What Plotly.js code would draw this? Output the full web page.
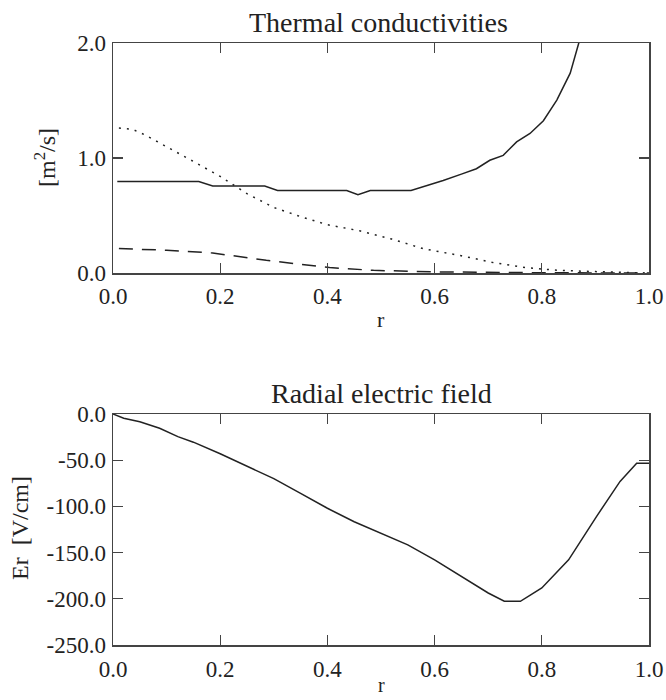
<!DOCTYPE html>
<html>
<head>
<meta charset="utf-8">
<script src="https://cdn.plot.ly/plotly-3.0.1.min.js"></script>
<style>html,body{margin:0;padding:0;background:#fff;}#plot{width:666px;height:700px;}</style>
</head>
<body>
<div id="plot"></div>
<script>
// Top panel: thermal conductivities
const rSolid = [0.008,0.16,0.186,0.283,0.307,0.436,0.457,0.48,0.556,0.6,0.616,0.65,0.678,0.703,0.728,0.753,0.778,0.803,0.828,0.853,0.869,0.89];
const kSolid = [0.795,0.795,0.757,0.757,0.718,0.718,0.68,0.718,0.718,0.78,0.805,0.86,0.907,0.98,1.023,1.14,1.213,1.324,1.504,1.738,2.0,2.5];
const rDot = [0.011,0.036,0.06,0.1,0.15,0.2,0.25,0.3,0.35,0.4,0.46,0.52,0.58,0.65,0.71,0.77,0.83,0.9,1.0];
const kDot = [1.26,1.25,1.2,1.1,0.97,0.84,0.69,0.57,0.49,0.42,0.367,0.295,0.21,0.15,0.09,0.047,0.023,0.012,0.0];
const rDash = [0.011,0.1,0.186,0.286,0.404,0.486,0.6,0.7,0.8,1.0];
const kDash = [0.212,0.198,0.174,0.11,0.047,0.023,0.01,0.004,0.002,0.0];
// Bottom panel: radial electric field
const rEr = [0.0,0.02,0.05,0.087,0.121,0.15,0.2,0.25,0.3,0.35,0.4,0.45,0.5,0.55,0.6,0.65,0.7,0.73,0.76,0.78,0.8,0.85,0.902,0.946,0.977,1.0];
const er = [0.0,-4.5,-8.3,-15.5,-24.5,-30.5,-43,-56.7,-70,-86,-102,-116.6,-129,-141.7,-157.8,-175.8,-193.7,-202.7,-202.7,-195.5,-188.3,-157.8,-111,-73,-53.4,-53.4];
// Tick labels
const xTicks = [0,0.2,0.4,0.6,0.8,1.0];
const xTickText = ['0.0','0.2','0.4','0.6','0.8','1.0'];
const yTicks1 = [0,1,2];
const yTickText1 = ['0.0','1.0','2.0'];
const yTicks2 = [0,-50,-100,-150,-200,-250];
const yTickText2 = ['0.0','-50.0','-100.0','-150.0','-200.0','-250.0'];

const FONT = "'Liberation Serif', 'Times New Roman', Times, serif";
const INK = '#222';
const lineStyle = {color: INK, width: 1.5};

const traces = [
  {x: rSolid, y: kSolid, mode: 'lines', line: Object.assign({}, lineStyle), xaxis: 'x', yaxis: 'y', showlegend: false},
  {x: rDot, y: kDot, mode: 'lines', line: Object.assign({dash: '2px,6px'}, lineStyle), xaxis: 'x', yaxis: 'y', showlegend: false},
  {x: rDash, y: kDash, mode: 'lines', line: Object.assign({dash: '14px,9px'}, lineStyle), xaxis: 'x', yaxis: 'y', showlegend: false},
  {x: rEr, y: er, mode: 'lines', line: Object.assign({}, lineStyle), xaxis: 'x2', yaxis: 'y2', showlegend: false}
];

const axBase = {
  showline: true, linecolor: '#444', linewidth: 1.5, mirror: 'ticks',
  ticks: 'inside', ticklen: 10, tickwidth: 1.3, tickcolor: '#444',
  showgrid: false, zeroline: false, fixedrange: true,
  tickfont: {family: FONT, size: 23, color: INK}
};
const X0 = 113/666, X1 = 649/666;
const ann = (text, px, py, size, angle) => ({
  text: text, xref: 'paper', yref: 'paper', x: px/666, y: 1-py/700,
  xanchor: 'center', yanchor: 'middle', textangle: angle || 0, showarrow: false,
  font: {family: FONT, size: size, color: INK}
});
const layout = {
  width: 666, height: 700,
  margin: {l: 0, r: 0, t: 0, b: 0},
  paper_bgcolor: '#fff', plot_bgcolor: '#fff',
  font: {family: FONT, color: INK},
  xaxis: Object.assign({}, axBase, {domain: [X0, X1], range: [0, 1], tickvals: xTicks, ticktext: xTickText, anchor: 'y', ticklabelstandoff: 2}),
  yaxis: Object.assign({}, axBase, {domain: [1-273/700, 1-43/700], range: [0, 2], tickvals: yTicks1, ticktext: yTickText1, anchor: 'x', ticklabelstandoff: 1}),
  xaxis2: Object.assign({}, axBase, {domain: [X0, X1], range: [0, 1], tickvals: xTicks, ticktext: xTickText, anchor: 'y2', ticklabelstandoff: 3}),
  yaxis2: Object.assign({}, axBase, {domain: [1-645/700, 1-414/700], range: [-250, 0], tickvals: yTicks2, ticktext: yTickText2, anchor: 'x2', ticklabelstandoff: 1}),
  annotations: [
    ann('Thermal conductivities', 378, 22, 28),
    ann('Radial electric field', 381, 393, 28),
    ann('[m<sup>2</sup>/s]', 45, 158, 24, -90),
    ann('Er  [V/cm]', 20, 528, 24, -90),
    ann('r', 381, 320, 22),
    ann('r', 381, 685, 20)
  ]
};
Plotly.newPlot('plot', traces, layout, {staticPlot: true, displayModeBar: false});
</script>
</body>
</html>
